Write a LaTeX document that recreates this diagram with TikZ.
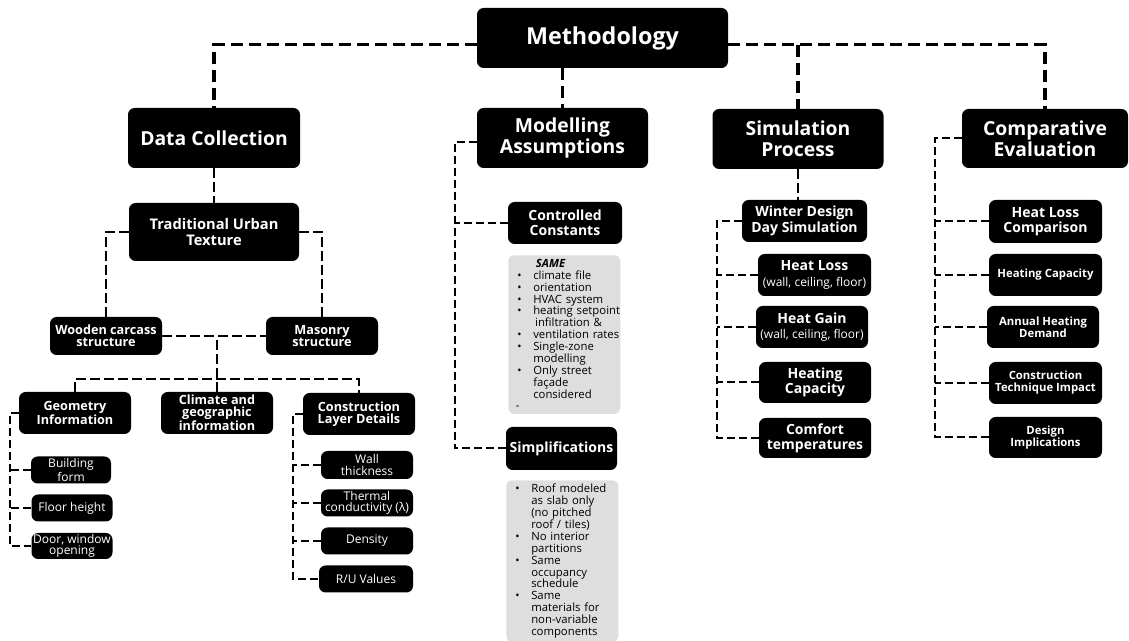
\documentclass[tikz,border=0pt]{standalone}
\usepackage{fontspec}
\setmainfont{Open Sans}
\definecolor{listgray}{RGB}{222,222,222}
\newcommand{\bul}[1]{\makebox[12pt][l]{\textbullet}\mbox{#1}}
\newcommand{\cont}[1]{\hspace*{12pt}\mbox{#1}}
\tikzset{
  box/.style={fill=black, text=white, rounded corners=5pt, align=center, inner sep=0pt},
  wh/.style 2 args={minimum width=#1*0.75pt, minimum height=#2*0.75pt},
  rootbox/.style={box, font=\fontsize{17.5}{19}\selectfont\bfseries},
  headbox/.style={box, font=\fontsize{14.5}{16}\selectfont\bfseries},
  midbox/.style={box, font=\fontsize{10.5}{11.5}\selectfont\bfseries},
  subbox/.style={box, font=\fontsize{9.5}{8.8}\selectfont\bfseries},
  smallbox/.style={box, font=\fontsize{8.5}{9}\selectfont\bfseries},
  leafbox/.style={box, font=\fontsize{9}{8.5}\selectfont},
  listbox/.style={fill=listgray, rounded corners=4pt, align=left, inner xsep=6.75pt, inner ysep=3pt, text width=70.5pt, font=\fontsize{8.5}{8.9}\selectfont},
  mainlink/.style={line width=2.6pt, dash pattern=on 9pt off 4.5pt},
  link/.style={line width=1.9pt, dash pattern=on 7pt off 3.5pt},
  sublink/.style={line width=1.5pt, dash pattern=on 6pt off 3pt}
}
\begin{document}
\begin{tikzpicture}[x=0.75pt,y=0.75pt,yscale=-1,xscale=1]
\useasboundingbox (0,0) rectangle (1129,641);

% top row
\node[rootbox, wh={251}{60}] (meth) at (602.5,38) {Methodology};
\node[headbox, wh={172}{60}] (dc) at (214,138) {Data Collection};
\node[headbox, wh={171}{60}] (ma) at (562.5,138) {Modelling\\Assumptions};
\node[headbox, wh={171}{60}] (sp) at (798,139) {Simulation\\Process};
\node[headbox, wh={166}{59}] (ce) at (1045,138.5) {Comparative\\Evaluation};
\coordinate (methleft) at ([yshift=5pt]meth.west);
\coordinate (methright) at ([yshift=5pt]meth.east);

\draw[mainlink] (methleft) -| (dc.north);
\draw[mainlink] (methright) -| (ce.north);
\draw[mainlink] (meth.south -| ma.north) -- (ma.north);
\draw[mainlink] (sp.north |- methright) -- (sp.north);

% Data Collection
\node[midbox, font=\fontsize{11}{12.5}\selectfont\bfseries, wh={170}{58}] (tut) at (214,232) {Traditional Urban\\Texture};
\node[subbox, wh={112}{38}] (wood) at (106,336) {Wooden carcass\\structure};
\node[subbox, wh={112}{38}] (mas) at (322,336) {Masonry\\structure};
\node[subbox, wh={112}{42}] (geo) at (75,413) {Geometry\\Information};
\node[subbox, wh={112}{42}] (clim) at (217,413) {Climate and\\geographic\\information};
\node[subbox, wh={112}{42}] (con) at (359,414) {Construction\\Layer Details};
\coordinate (split) at (217,379);

\draw[link] (dc.south) -- (tut.north);
\draw[link] (tut.west) -| (wood.north);
\draw[link] (tut.east) -| (mas.north);
\draw[link] (wood.east) -- (mas.west);
\draw[link] (clim.north) -- (clim.north |- wood.east);
\draw[link] (geo.north) |- (split) -| (con.north);

\node[leafbox, wh={80}{27}] (bf) at (71,470) {Building\\form};
\node[leafbox, wh={81}{27}] (fh) at (72,508) {Floor height};
\node[leafbox, wh={81}{26}] (dw) at (72,546) {Door, window\\opening};
\draw[sublink] (geo.west) -- ++(-9,0) coordinate (geotrunk) |- (dw.west);
\foreach \n in {bf,fh}
  \draw[sublink] (\n.west) -- (\n.west -| geotrunk);

\node[leafbox, wh={92}{28}] (wt) at (367,465) {Wall\\thickness};
\node[leafbox, wh={92}{27}] (tc) at (367,503) {Thermal\\conductivity (λ)};
\node[leafbox, wh={92}{27}] (den) at (367,541) {Density};
\node[leafbox, wh={94}{27}] (ru) at (366,579) {R/U Values};
\draw[sublink] (con.west) -- ++(-10,0) coordinate (contrunk) |- (ru.west);
\foreach \n in {wt,tc,den}
  \draw[sublink] (\n.west) -- (\n.west -| contrunk);

% Modelling Assumptions
\node[midbox, wh={114}{42}] (cc) at (565,223) {Controlled\\Constants};
\node[listbox, anchor=north west] (same) at (508,255) {%
  \hspace*{14pt}\textbf{\textit{SAME}}\\
  \bul{climate file}\\
  \bul{orientation}\\
  \bul{HVAC system}\\
  \bul{heating setpoint}\\
  \cont{\,infiltration \&}\\
  \bul{ventilation rates}\\
  \bul{Single-zone}\\
  \cont{modelling}\\
  \bul{Only street}\\
  \cont{façade}\\
  \cont{considered}\\
  \hspace*{-1pt}-};
\node[midbox, wh={111}{43}] (simp) at (561.5,448.5) {Simplifications};
\node[listbox, anchor=north west] (simplist) at (506,480) {%
  \bul{Roof modeled}\\
  \cont{as slab only}\\
  \cont{(no pitched}\\
  \cont{roof / tiles)}\\
  \bul{No interior}\\
  \cont{partitions}\\
  \bul{Same}\\
  \cont{occupancy}\\
  \cont{schedule}\\
  \bul{Same}\\
  \cont{materials for}\\
  \cont{non-variable}\\
  \cont{components}};
\coordinate (maleft) at ([yshift=3pt]ma.west);
\draw[sublink] (maleft) -- ++(-22,0) coordinate (matrunk) |- (simp.west);
\draw[sublink] (cc.west) -- (cc.west -| matrunk);

% Simulation Process
\node[midbox, wh={125}{42}] (wdd) at (804.5,221) {Winter Design\\Day Simulation};
\node[midbox, wh={113}{42}] (hl) at (814.5,275) {Heat Loss\\{\fontsize{9}{9.5}\selectfont\mdseries (wall, ceiling, floor)}};
\node[midbox, wh={112}{42}] (hg) at (812,327) {Heat Gain\\{\fontsize{9}{9.5}\selectfont\mdseries (wall, ceiling, floor)}};
\node[midbox, wh={112}{41}] (hc) at (815,382.5) {Heating\\Capacity};
\node[midbox, wh={112}{40}] (ct) at (815,438) {Comfort\\temperatures};
\draw[link] (sp.south) -- (sp.south |- wdd.north);
\draw[sublink] (wdd.west) -- ++(-25,0) coordinate (sptrunk) |- (ct.west);
\foreach \n in {hl,hg,hc}
  \draw[sublink] (\n.west) -- (\n.west -| sptrunk);

% Comparative Evaluation
\node[midbox, wh={113}{43}] (hlc) at (1045.5,221.5) {Heat Loss\\Comparison};
\node[smallbox, wh={113}{42}] (hcap) at (1045.5,275) {Heating Capacity};
\node[smallbox, wh={112}{42}] (ahd) at (1043,327) {Annual Heating\\Demand};
\node[smallbox, wh={113}{42}] (cti) at (1045.5,383) {Construction\\Technique Impact};
\node[smallbox, wh={113}{41}] (di) at (1045.5,437.5) {Design\\Implications};
\draw[sublink] (ce.west) -- ++(-27,0) coordinate (cetrunk) |- (di.west);
\foreach \n in {hlc,hcap,ahd,cti}
  \draw[sublink] (\n.west) -- (\n.west -| cetrunk);

\end{tikzpicture}
\end{document}
